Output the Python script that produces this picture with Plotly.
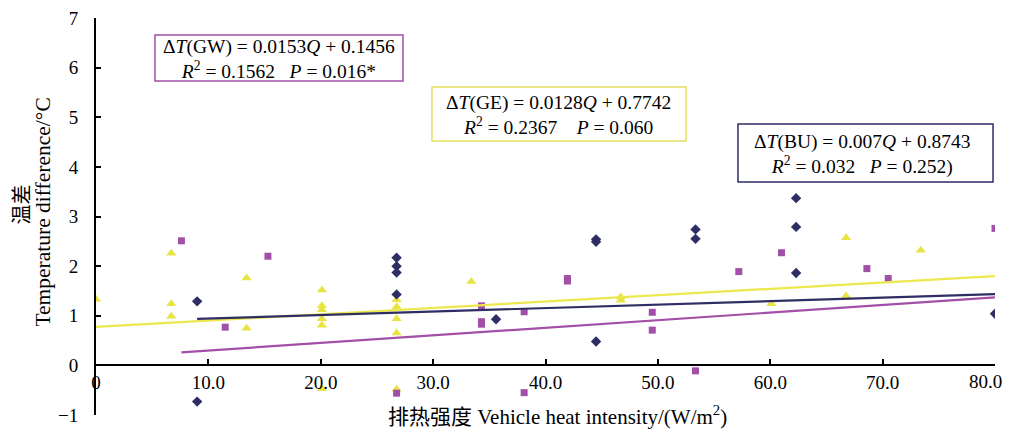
import plotly.graph_objects as go

# ---- data ----
bu_x = [9.0, 9.0, 26.75, 26.75, 26.75, 26.75, 35.6, 44.5, 44.5, 44.5, 53.35, 53.35, 62.3, 62.3, 62.3, 80.0]
bu_y = [1.29, -0.73, 2.17, 2.0, 1.87, 1.43, 0.93, 2.54, 2.49, 0.48, 2.74, 2.55, 3.37, 2.79, 1.86, 1.04]

ge_x = [0.0, 6.7, 6.7, 6.7, 13.4, 13.4, 20.1, 20.1, 20.1, 20.1, 20.1, 20.1,
        26.75, 26.75, 26.75, 26.75, 26.75, 33.4, 46.7, 46.7, 60.1, 66.75, 66.75, 73.4]
ge_y = [1.33, 2.26, 1.24, 0.99, 1.76, 0.75, 1.52, 1.2, 1.12, 0.94, 0.81, -0.47,
        1.32, 1.18, 0.94, 0.65, -0.48, 1.69, 1.38, 1.31, 1.24, 2.57, 1.40, 2.32]

gw_x = [7.6, 11.5, 15.3, 26.75, 34.3, 34.3, 34.3, 38.1, 38.1, 41.95, 41.95, 49.5, 49.5,
        53.35, 57.2, 61.0, 68.6, 70.5, 80.0]
gw_y = [2.51, 0.77, 2.2, -0.56, 1.2, 0.88, 0.83, 1.08, -0.55, 1.75, 1.70, 1.07, 0.71,
        -0.11, 1.89, 2.27, 1.95, 1.75, 2.76]

# regression coefficients (slope, intercept) as printed in the chart, and the x span of each fit line
bu_fit = (0.007, 0.8743)
ge_fit = (0.0128, 0.7742)
gw_fit = (0.0153, 0.1456)
bu_span = [9.0, 80.0]
ge_span = [0.0, 80.0]
gw_span = [7.6, 80.0]

x_ticks = [0, 10, 20, 30, 40, 50, 60, 70, 80]
x_ticktext = ["0", "10.0", "20.0", "30.0", "40.0", "50.0", "60.0", "70.0", "80.0"]
y_ticks = [-1, 0, 1, 2, 3, 4, 5, 6, 7]

NAVY = "#2e2d64"
PURPLE = "#a24fa8"
YELLOW = "#e8e444"
YELLOW_LINE = "#ece84e"
FONT = "Liberation Serif, Noto Sans CJK SC, serif"


def fit_line(span, coef):
    return span, [coef[0] * x + coef[1] for x in span]


fig = go.Figure()

fig.add_trace(go.Scatter(x=ge_x, y=ge_y, mode="markers",
                         marker=dict(symbol="triangle-up", size=9, color=YELLOW),
                         showlegend=False))
fig.add_trace(go.Scatter(x=gw_x, y=gw_y, mode="markers",
                         marker=dict(symbol="square", size=7, color=PURPLE),
                         showlegend=False))
fig.add_trace(go.Scatter(x=bu_x, y=bu_y, mode="markers",
                         marker=dict(symbol="diamond", size=8, color=NAVY),
                         showlegend=False))

lx, ly = fit_line(ge_span, ge_fit)
fig.add_trace(go.Scatter(x=lx, y=ly, mode="lines", line=dict(color=YELLOW_LINE, width=2.2),
                         showlegend=False))
lx, ly = fit_line(bu_span, bu_fit)
fig.add_trace(go.Scatter(x=lx, y=ly, mode="lines", line=dict(color=NAVY, width=2.2),
                         showlegend=False))
lx, ly = fit_line(gw_span, gw_fit)
fig.add_trace(go.Scatter(x=lx, y=ly, mode="lines", line=dict(color=PURPLE, width=2.2),
                         showlegend=False))

# equation boxes: frames as shapes, text as annotations
boxes = [
    dict(x0=0.0656, x1=0.3415, y0=0.8413, y1=0.9572, color=PURPLE),
    dict(x0=0.3737, x1=0.6563, y0=0.6902, y1=0.8262, color="#e4e060"),
    dict(x0=0.7141, x1=0.9978, y0=0.5869, y1=0.7330, color=NAVY),
]
for b in boxes:
    fig.add_shape(type="rect", xref="paper", yref="paper", layer="above",
                  x0=b["x0"], x1=b["x1"], y0=b["y0"], y1=b["y1"],
                  line=dict(color=b["color"], width=1.5), fillcolor="rgba(255,255,255,0)")

sp = "\u00a0"
ann_common = dict(xref="paper", yref="paper", showarrow=False, align="center",
                  font=dict(family=FONT, size=19.5, color="black"),
                  xanchor="center", yanchor="middle")

fig.add_annotation(x=0.2035, y=0.897,
                   text=f"Δ<i>T</i>(GW) = 0.0153<i>Q</i> + 0.1456<br><i>R</i><sup>2</sup> = 0.1562{sp*3}<i>P</i> = 0.016*",
                   **ann_common)
fig.add_annotation(x=0.515, y=0.755,
                   text=f"Δ<i>T</i>(GE) = 0.0128<i>Q</i> + 0.7742<br><i>R</i><sup>2</sup> = 0.2367{sp*4}<i>P</i> = 0.060",
                   **ann_common)
fig.add_annotation(x=0.853, y=0.657,
                   text=f"Δ<i>T</i>(BU) = 0.007<i>Q</i> + 0.8743<br><i>R</i><sup>2</sup> = 0.032{sp*3}<i>P</i> = 0.252)",
                   **ann_common)

# last x tick label drawn right-aligned so it stays inside the page, as in the reference
fig.add_annotation(x=x_ticks[-1], y=0, xref="x", yref="y", showarrow=False,
                   xanchor="right", yanchor="top", xshift=9, yshift=-4,
                   text=x_ticktext[-1], font=dict(family=FONT, size=19, color="black"))

# x-axis title
fig.add_annotation(x=0.513, y=0.0, xref="paper", yref="paper", showarrow=False,
                   xanchor="center", yanchor="middle",
                   text="排热强度 Vehicle heat intensity/(W/m<sup>2</sup>)",
                   font=dict(family=FONT, size=21, color="black"))

# y-axis title (two rotated lines)
fig.add_annotation(x=-0.0823, y=0.53, xref="paper", yref="paper", showarrow=False,
                   xanchor="center", yanchor="middle", textangle=-90,
                   text="温差", font=dict(family=FONT, size=20, color="black"))
fig.add_annotation(x=-0.060, y=0.51, xref="paper", yref="paper", showarrow=False,
                   xanchor="center", yanchor="middle", textangle=-90,
                   text="Temperature difference/°C", font=dict(family=FONT, size=21.5, color="black"))

axis_ticktext = x_ticktext[:-1] + [""]

# page body has an 8px margin, so the figure is shrunk by 8px and margins shifted
fig.update_layout(
    width=1003, height=423,
    margin=dict(l=88, r=16, t=10, b=16),
    paper_bgcolor="white", plot_bgcolor="white",
    font=dict(family=FONT, size=19, color="black"),
    xaxis=dict(range=[0, 80], tickvals=x_ticks, ticktext=axis_ticktext,
               showgrid=False, zeroline=False, showline=True, linecolor="black", linewidth=2,
               ticks="inside", ticklen=5, tickwidth=1.5, tickcolor="black",
               anchor="free", position=0.125, automargin=False,
               ticklabeloverflow="allow",
               tickfont=dict(family=FONT, size=19)),
    yaxis=dict(range=[-1, 7], tickvals=y_ticks, automargin=False,
               showgrid=False, zeroline=False, showline=True, linecolor="black", linewidth=2,
               ticks="inside", ticklen=5, tickwidth=1.5, tickcolor="black",
               ticklabelstandoff=12, ticklabeloverflow="allow",
               tickfont=dict(family=FONT, size=19)),
)

fig.write_html("out.html")
